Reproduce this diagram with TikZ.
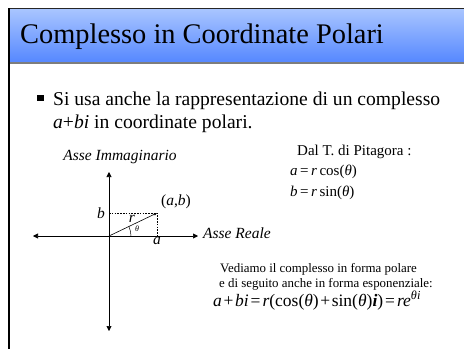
\documentclass[tikz,border=0pt]{standalone}
\usepackage{fontspec}
\setmainfont{Liberation Serif}
\usetikzlibrary{arrows.meta}
\usetikzlibrary{positioning}
\definecolor{bartop}{RGB}{170,198,255}
\definecolor{barbottom}{RGB}{86,136,255}
\definecolor{rulegray}{RGB}{125,125,125}
\tikzset{
axis/.style={line width=0.6pt, {Triangle[length=5pt,width=5pt]}-{Triangle[length=5pt,width=5pt]}},
guide/.style={line width=0.6pt, dash pattern=on 1.6pt off 1.2pt},
title_text/.style={font=\fontsize{28.4}{32}\selectfont, anchor=base west, inner sep=0pt},
body_text/.style={font=\fontsize{19.6}{24}\selectfont, anchor=base west, inner sep=0pt},
side_text/.style={font=\fontsize{15}{18}\selectfont, anchor=base west, inner sep=0pt},
note_text/.style={font=\fontsize{12.9}{15}\selectfont, anchor=base west, inner sep=0pt},
axis_name/.style={font=\fontsize{15.5}{18}\selectfont\itshape, inner sep=0pt},
var_label/.style={font=\fontsize{15.5}{18}\selectfont\itshape, inner sep=0pt}
}
\begin{document}
\begin{tikzpicture}[x=1pt, y=-1pt]
    \useasboundingbox (0,0) rectangle (464,349);
    % title bar
    \shade[top color=bartop, bottom color=barbottom] (9,8) rectangle (464,62);
    \draw[line width=1.2pt, black!85] (8,8.6) -- (464,8.6);
    \draw[line width=2pt, rulegray] (10,63) -- (464,63);
    \draw[line width=2pt] (9,8) -- (9,349);
    \node[title_text] (title) at (20,43) {Complesso in Coordinate Polari};

    % bullet
    \node[fill=black, minimum size=6.5pt, inner sep=0pt] (bullet) at (40.5,98) {};
    \node[body_text] (line_1) at (53,105) {Si usa anche la rappresentazione di un complesso};
    \node[body_text] (line_2) at (53,128) {\textit{a}+\textit{bi} in coordinate polari.};

    % Pitagora
    \node[side_text] (pitagora) at (297,155) {Dal T. di Pitagora :};
    \node[side_text] (eq_a) at (290,175) {\textit{a}\,=\,\textit{r}\,cos(\textit{θ})};
    \node[side_text] (eq_b) at (290,196) {\textit{b}\,=\,\textit{r}\,sin(\textit{θ})};

    % piano complesso
    \coordinate (origin) at (109,236);
    \coordinate (im_top) at (109,172);
    \coordinate (im_bottom) at (109,331);
    \coordinate (re_left) at (33,236);
    \coordinate (re_right) at (198,236);
    \coordinate (point) at (157,213);
    \coordinate (b_tick) at (origin |- point);
    \coordinate (a_tick) at (origin -| point);
    \draw[axis] (re_left) -- (re_right);
    \draw[axis] (im_bottom) -- (im_top);
    \draw[guide] (b_tick) -- (point) -- (a_tick);
    \draw[line width=0.6pt, -{Triangle[length=3pt,width=2.5pt]}] (origin) -- (point);
    \draw[line width=0.5pt] (origin) ++(22,0) arc[start angle=0, end angle=-25.6, radius=22];

    \node[axis_name] (im_name) at (120,157) {Asse Immaginario};
    \node[axis_name, anchor=west] (re_name) at (203,233) {Asse Reale};
    \node[var_label, left=4pt of b_tick] (b_label) {b};
    \node[var_label, below=1pt of a_tick] (a_label) {a};
    \node[var_label] (r_label) at (132,219) {r};
    \node[font=\fontsize{8}{9}\selectfont\itshape, inner sep=0pt] (theta_label) at (137,229) {θ};
    \node[font=\fontsize{15.5}{18}\selectfont, anchor=west, inner sep=0pt] (point_label) at (161,202) {(\textit{a},\textit{b})};

    % forma polare
    \node[note_text] (note_1) at (220,272) {Vediamo il complesso in forma polare};
    \node[note_text] (note_2) at (219,287) {e di seguito anche in forma esponenziale:};
    \node[font=\fontsize{17.5}{20}\selectfont, anchor=base west, inner sep=0pt] (euler) at (213,306)
        {\textit{a}\kern1.6pt+\kern1.6pt\textit{bi}\kern2pt=\kern2pt\textit{r}(cos(\textit{θ})\kern1.6pt+\kern1.6pt sin(\textit{θ})\textbf{\textit{i}})\kern2pt=\kern2pt\textit{re}\textsuperscript{\textit{θi}}};
\end{tikzpicture}
\end{document}
